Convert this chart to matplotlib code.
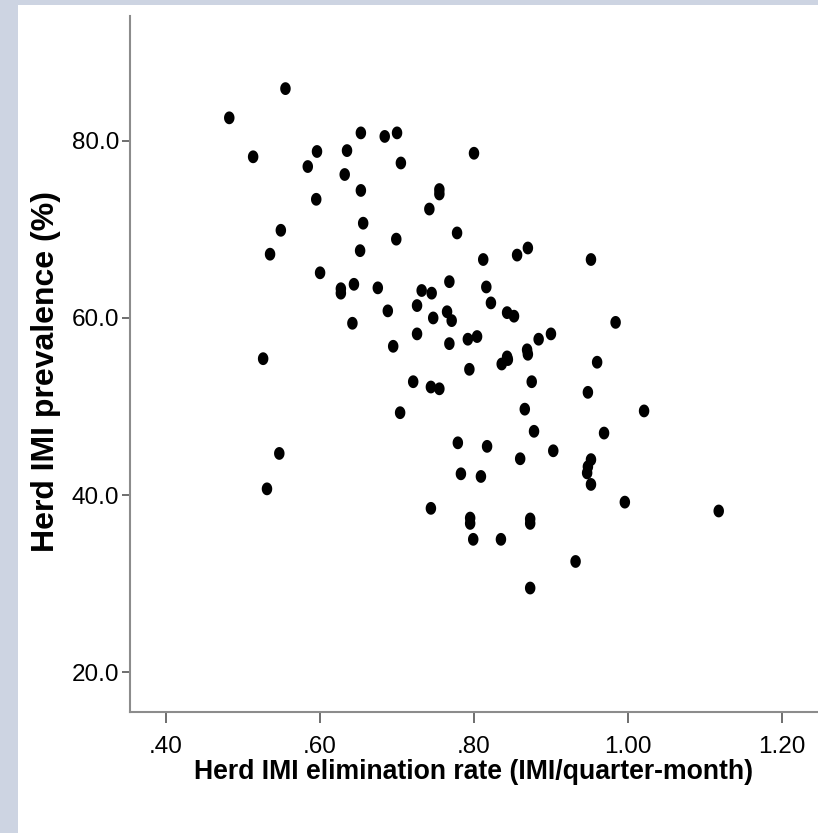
import numpy as np
import matplotlib
matplotlib.use("Agg")
import matplotlib.pyplot as plt
from matplotlib.patches import Rectangle

# Herd IMI elimination rate (IMI/quarter-month)
elimination_rate = [
    0.555, 0.482, 0.513, 0.596, 0.584, 0.635, 0.653, 0.684, 0.700, 0.705,
    0.800, 0.632, 0.653, 0.595, 0.755, 0.755, 0.742, 0.656, 0.549, 0.699,
    0.778, 0.535, 0.652, 0.870, 0.856, 0.812, 0.952, 0.600, 0.627, 0.627,
    0.644, 0.675, 0.768, 0.732, 0.745, 0.816, 0.688, 0.642, 0.726, 0.822,
    0.765, 0.771, 0.747, 0.843, 0.852, 0.984, 0.726, 0.768, 0.792, 0.804,
    0.900, 0.884, 0.869, 0.870, 0.843, 0.836, 0.844, 0.960, 0.695, 0.794,
    0.526, 0.875, 0.721, 0.744, 0.755, 0.948, 1.021, 0.866, 0.704, 0.878,
    0.969, 0.779, 0.817, 0.903, 0.860, 0.952, 0.948, 0.947, 0.952, 0.783,
    0.809, 0.547, 0.531, 0.996, 0.744, 0.795, 0.795, 0.873, 0.873, 1.118,
    0.799, 0.835, 0.932, 0.873,
]
# Herd IMI prevalence (%)
prevalence = [
    85.9, 82.6, 78.2, 78.8, 77.1, 78.9, 80.9, 80.5, 80.9, 77.5,
    78.6, 76.2, 74.4, 73.4, 74.5, 74.0, 72.3, 70.7, 69.9, 68.9,
    69.6, 67.2, 67.6, 67.9, 67.1, 66.6, 66.6, 65.1, 63.3, 62.8,
    63.8, 63.4, 64.1, 63.1, 62.8, 63.5, 60.8, 59.4, 61.4, 61.7,
    60.7, 59.7, 60.0, 60.6, 60.2, 59.5, 58.2, 57.1, 57.6, 57.9,
    58.2, 57.6, 56.4, 55.9, 55.6, 54.8, 55.3, 55.0, 56.8, 54.2,
    55.4, 52.8, 52.8, 52.2, 52.0, 51.6, 49.5, 49.7, 49.3, 47.2,
    47.0, 45.9, 45.5, 45.0, 44.1, 44.0, 43.2, 42.5, 41.2, 42.4,
    42.1, 44.7, 40.7, 39.2, 38.5, 37.4, 36.8, 37.3, 36.8, 38.2,
    35.0, 35.0, 32.5, 29.5,
]
x_ticks = [0.40, 0.60, 0.80, 1.00, 1.20]
x_tick_labels = [".40", ".60", ".80", "1.00", "1.20"]
y_ticks = [20, 40, 60, 80]
y_tick_labels = ["20.0", "40.0", "60.0", "80.0"]

plt.rcParams['font.family'] = ['Liberation Sans', 'DejaVu Sans']

W, H = 818, 833
fig = plt.figure(figsize=(W / 100, H / 100), dpi=100)
fig.patch.set_facecolor('#cdd4e2')
fig.add_artist(Rectangle((18 / W, 0), 1 - 18 / W, 1 - 5 / H,
                         transform=fig.transFigure, facecolor='white',
                         edgecolor='none', zorder=0))

ax = fig.add_axes([130 / W, 1 - 712 / H, 1 - 130 / W, (712 - 16) / H])
ax.set_facecolor('none')

t = np.linspace(0, 2 * np.pi, 40)
ellipse = np.column_stack([0.82 * np.cos(t), np.sin(t)])
ax.scatter(elimination_rate, prevalence, s=85, marker=ellipse,
           color='black', edgecolors='none', zorder=3)

ax.set_xlim(0.353, 1.247)
ax.set_ylim(15.5, 94.1)
ax.set_xticks(x_ticks)
ax.set_xticklabels(x_tick_labels)
ax.set_yticks(y_ticks)
ax.set_yticklabels(y_tick_labels)

for s in ['top', 'right']:
    ax.spines[s].set_visible(False)
for s in ['left', 'bottom']:
    ax.spines[s].set_color('#8c8c8c')
    ax.spines[s].set_linewidth(1.5)
ax.tick_params(axis='x', direction='out', length=8, width=1.2, color='#555555',
               labelsize=17.5, pad=9)
ax.tick_params(axis='y', direction='out', length=6, width=1.2, color='#555555',
               labelsize=17.5, pad=2)

ax.set_xlabel("Herd IMI elimination rate (IMI/quarter-month)", fontsize=19.2,
              fontweight='bold', va='center')
ax.xaxis.set_label_coords(0.5, (712 - 772) / 696)
ax.set_ylabel("Herd IMI prevalence (%)", fontsize=23, fontweight='bold',
              va='center')
ax.yaxis.set_label_coords((46 - 130) / 688, (712 - 372) / 696)

fig.savefig("out.png", dpi=100, facecolor=fig.get_facecolor())
